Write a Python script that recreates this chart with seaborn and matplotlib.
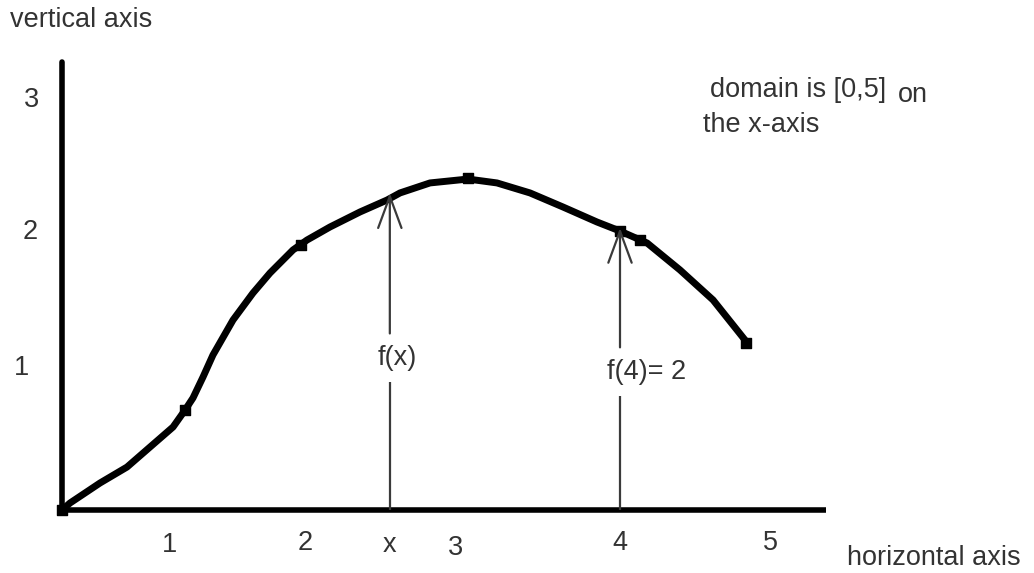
import numpy as np
import pandas as pd
import matplotlib
matplotlib.use("Agg")
import matplotlib.pyplot as plt
import seaborn as sns

sns.set_theme(style="white")
plt.rcParams['font.family'] = ['Liberation Sans', 'DejaVu Sans']

# ---- data ----
curve_x = [0.0, 0.057, 0.272, 0.466, 0.631, 0.796, 0.882, 0.939, 1.011, 1.082, 1.226,
           1.369, 1.491, 1.656, 1.756, 1.921, 2.136, 2.330, 2.423, 2.638, 2.910, 3.118,
           3.355, 3.591, 3.835, 4.0, 4.194, 4.430, 4.667, 4.896]
curve_y = [0.0, 0.05, 0.194, 0.309, 0.453, 0.597, 0.719, 0.806, 0.957, 1.115, 1.367,
           1.561, 1.705, 1.871, 1.942, 2.036, 2.144, 2.230, 2.281, 2.353, 2.381, 2.353,
           2.281, 2.180, 2.072, 2.007, 1.921, 1.727, 1.511, 1.223]
mark_x = [0.0, 0.88, 1.71, 2.91, 4.0, 4.14, 4.90]
mark_y = [0.0, 0.72, 1.91, 2.39, 2.01, 1.94, 1.20]

x_labels = ["1", "2", "x", "3", "4", "5"]
x_label_pos = [0.77, 1.74, 2.35, 2.82, 4.0, 5.08]
x_label_y = [-0.25, -0.24, -0.25, -0.27, -0.24, -0.24]
y_labels = ["3", "2", "1"]
y_label_pos = [2.95, 2.0, 1.02]
y_label_x = [-0.215, -0.225, -0.29]

arrow_x = [2.35, 4.0]
arrow_top = [2.28, 2.03]
arrow_text = ["f(x)", "f(4)= 2"]
arrow_text_y = [1.09, 0.99]

x_axis_end = 5.48
y_axis_end = 3.22

# ---- figure ----
fig = plt.figure(figsize=(10.34, 5.73), dpi=100)
ax = fig.add_axes([0, 0, 1, 1])
ax.set_xlim(-62 / 139.5, (1034 - 62) / 139.5)
ax.set_ylim(-63 / 139, 510 / 139)
ax.axis("off")

txt_color = "#333333"
fs = 19.5

# axes lines
ax.plot([0, x_axis_end], [0, 0], color="black", lw=4, solid_capstyle="butt")
ax.plot([0, 0], [0, y_axis_end], color="black", lw=4, solid_capstyle="round")

# curve
df = pd.DataFrame({"x": curve_x, "y": curve_y})
sns.lineplot(data=df, x="x", y="y", ax=ax, color="black", lw=5, sort=False,
             estimator=None)
ax.lines[-1].set_solid_joinstyle("round")
ax.lines[-1].set_solid_capstyle("round")
ax.scatter(mark_x, mark_y, s=45, marker="s", color="black", zorder=3)

# arrows f(x), f(4)
for xa, yt, t, ty in zip(arrow_x, arrow_top, arrow_text, arrow_text_y):
    ax.vlines(xa, 0, ty - 0.17, color="#3a3a3a", lw=1.6)
    ax.annotate("", xy=(xa, yt), xytext=(xa, ty + 0.18),
                arrowprops=dict(arrowstyle="->,head_length=1.9,head_width=0.7",
                                color="#3a3a3a", lw=1.6, shrinkA=0, shrinkB=0))
    ax.text(xa - 0.09, ty, t, ha="left", va="center", fontsize=fs, color=txt_color)

# tick labels
for p, yy, lab in zip(x_label_pos, x_label_y, x_labels):
    ax.text(p, yy, lab, ha="center", va="center", fontsize=fs, color=txt_color)
for p, xx, lab in zip(y_label_pos, y_label_x, y_labels):
    ax.text(xx, p, lab, ha="center", va="center", fontsize=fs, color=txt_color)

# axis titles & note
ax.text(10 / 1034, 1 - 20 / 573, "vertical axis", transform=ax.transAxes,
        ha="left", va="center", fontsize=fs, color=txt_color)
ax.text(847 / 1034, 1 - 558 / 573, "horizontal axis", transform=ax.transAxes,
        ha="left", va="center", fontsize=fs, color=txt_color)
ax.text(710 / 1034, 1 - 90 / 573, "domain is [0,5]", transform=ax.transAxes,
        ha="left", va="center", fontsize=fs, color=txt_color)
ax.text(898 / 1034, 1 - 95 / 573, "on", transform=ax.transAxes,
        ha="left", va="center", fontsize=fs, color=txt_color)
ax.text(703 / 1034, 1 - 125 / 573, "the x-axis", transform=ax.transAxes,
        ha="left", va="center", fontsize=fs, color=txt_color)

fig.savefig("out.png", dpi=100)
